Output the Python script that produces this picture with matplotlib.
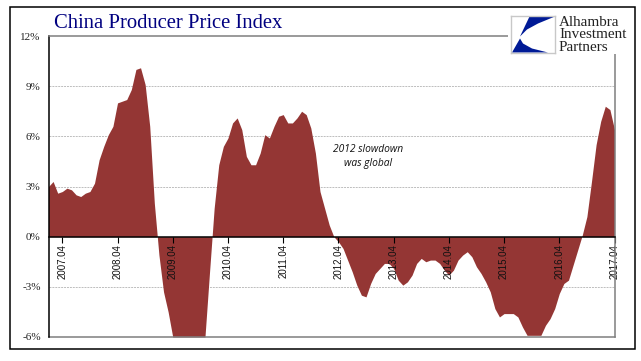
import matplotlib
matplotlib.use("Agg")
import matplotlib.pyplot as plt
import numpy as np
import pandas as pd
from matplotlib.patches import Rectangle, Polygon

W, H = 641, 361

# ----------------------
# Data (year on year, monthly)
# ----------------------
ppi_2007 = [3.0, 3.3, 2.6, 2.7, 2.9, 2.8, 2.5, 2.4, 2.6, 2.7, 3.2, 4.6]
ppi_2008 = [5.4, 6.1, 6.6, 8.0, 8.1, 8.2, 8.8, 10.0, 10.1, 9.1, 6.6, 2.0]
ppi_2009 = [-1.1, -3.3, -4.5, -6.0, -6.0, -6.0, -6.0, -6.0, -6.0, -6.0, -6.0, -2.1]
ppi_2010 = [1.7, 4.3, 5.4, 5.9, 6.8, 7.1, 6.4, 4.8, 4.3, 4.3, 5.0, 6.1]
ppi_2011 = [5.9, 6.6, 7.2, 7.3, 6.8, 6.8, 7.1, 7.5, 7.3, 6.5, 5.0, 2.7]
ppi_2012 = [1.7, 0.7, 0.0, -0.3, -0.7, -1.4, -2.1, -2.9, -3.5, -3.6, -2.8, -2.2]
ppi_2013 = [-1.9, -1.6, -1.6, -1.9, -2.6, -2.9, -2.7, -2.3, -1.6, -1.3, -1.5, -1.4]
ppi_2014 = [-1.4, -1.6, -2.0, -2.3, -2.0, -1.4, -1.1, -0.9, -1.2, -1.8, -2.2, -2.7]
ppi_2015 = [-3.3, -4.3, -4.8, -4.6, -4.6, -4.6, -4.8, -5.4, -5.9, -5.9, -5.9, -5.9]
ppi_2016 = [-5.3, -4.9, -4.3, -3.4, -2.8, -2.6, -1.7, -0.8, 0.1, 1.2, 3.3, 5.5]
ppi_2017 = [6.9, 7.8, 7.6, 6.4]

ppi = ppi_2007 + ppi_2008 + ppi_2009 + ppi_2010 + ppi_2011 + ppi_2012 + ppi_2013 + ppi_2014 + ppi_2015 + ppi_2016 + ppi_2017
dates = pd.date_range("2007-01-01", periods=len(ppi), freq="MS")
x = np.arange(len(ppi))

tick_pos = [i for i, d in enumerate(dates) if d.month == 4]
tick_labels = [d.strftime("%Y.%m") for d in dates if d.month == 4]
y_ticks = [-6, -3, 0, 3, 6, 9, 12]
y_labels = ["-6%", "-3%", "0%", "3%", "6%", "9%", "12%"]

# ----------------------
# Plot
# ----------------------
fig = plt.figure(figsize=(W / 100, H / 100), dpi=100)
ax = fig.add_axes([48.5 / W, 1 - 337 / H, 566 / W, 301 / H])

# set_position resets the ticks, so it has to come first
ax.spines["bottom"].set_position(("data", 0))
ax.spines["bottom"].set_linewidth(1.1)
ax.spines["left"].set_linewidth(1.1)
ax.spines["top"].set_color("#7f7f7f")
ax.spines["top"].set_linewidth(1.1)
ax.spines["right"].set_color("#7f7f7f")
ax.spines["right"].set_linewidth(1.1)

ax.fill_between(x, ppi, 0, color="#943634", lw=0)
for v in [-3, 3, 6, 9]:
    ax.axhline(v, color="#bdbdbd", lw=0.7, ls=(0, (2, 1)), zorder=0)
ax.axhline(-6, color="#7f7f7f", lw=1.1, clip_on=False)

ax.set_xlim(0, len(ppi) - 1)
ax.set_ylim(-6, 12)
ax.set_yticks(y_ticks)
ax.set_yticklabels(y_labels, fontsize=8, family="Liberation Serif", color="#222222")
ax.set_xticks(tick_pos)
ax.set_xticklabels(tick_labels, rotation=90, fontsize=7, family="Liberation Sans", color="#111111")
ax.tick_params(axis="x", length=4.5, width=0.8, pad=1, direction="out")
ax.tick_params(axis="y", length=0, pad=5.6)

ax.text(0.565, 0.5997, "2012 slowdown\nwas global", transform=ax.transAxes, ha="center", va="center",
        fontsize=7.4, style="italic", family="Open Sans", linespacing=1.3, color="#111111")

# ----------------------
# Outer frame, title
# ----------------------
fig.add_artist(Rectangle((9.5 / W, 1 - 349 / H), 625 / W, 342 / H, fill=False, ec="black", lw=1.1,
                         transform=fig.transFigure))
fig.text(54 / W, 1 - 24 / H, "China Producer Price Index", fontsize=14.9, color="#000080",
         family="Liberation Serif", ha="left", va="center")

# ----------------------
# Logo
# ----------------------
fig.add_artist(Rectangle((508 / W, 1 - 54 / H), 125 / W, 43 / H, fc="white", ec="none", transform=fig.transFigure))
logo = fig.add_axes([511 / W, 1 - 52.5 / H, 44 / W, 37 / H])
logo.set_zorder(5)
logo.set_xlim(0, 44)
logo.set_ylim(37, 0)
logo.set_xticks([])
logo.set_yticks([])
for s in logo.spines.values():
    s.set_color("#c8c8c8")
    s.set_linewidth(1)
logo.add_patch(Polygon([(19, 0), (44, 1), (27, 8), (16, 14), (9, 21)], fc="#001a96", ec="none"))
logo.add_patch(Polygon([(1, 37), (9, 23), (12, 28), (21, 33), (37, 37)], fc="#001a96", ec="none"))

for i, line in enumerate(["Alhambra", "Investment", "Partners"]):
    fig.text(559 / W, 1 - (22.5 + i * 12.5) / H, line, fontsize=10.9, color="#222222",
             family="Liberation Serif", ha="left", va="center", zorder=6)

plt.savefig("out.png", dpi=100)
